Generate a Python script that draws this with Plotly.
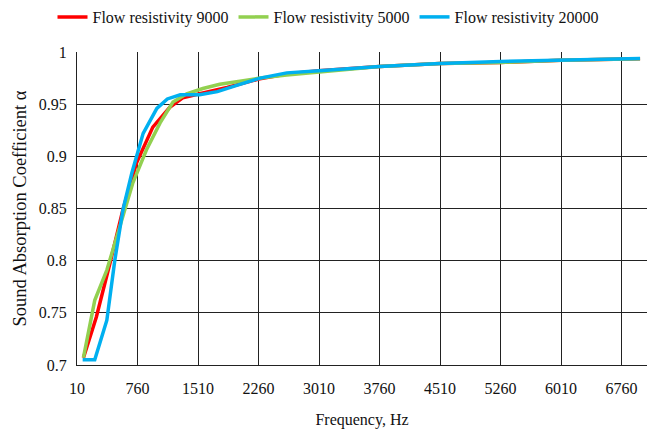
import plotly.graph_objects as go

# Flow resistivity 9000 (red)
freq_9000 = [90, 250, 420, 580, 750, 950, 1160, 1320, 1530, 1870, 2260, 2610, 3010, 3760, 4510, 5260, 6010, 6760, 6990]
alpha_9000 = [0.707, 0.746, 0.798, 0.849, 0.894, 0.928, 0.947, 0.956, 0.960, 0.966, 0.974, 0.979, 0.982, 0.986, 0.989, 0.990, 0.992, 0.993, 0.9935]

# Flow resistivity 5000 (green)
freq_5000 = [90, 230, 380, 540, 700, 870, 1040, 1200, 1370, 1570, 1780, 2030, 2280, 2610, 3010, 3760, 4510, 5260, 6010, 6760, 6990]
alpha_5000 = [0.707, 0.762, 0.791, 0.832, 0.874, 0.906, 0.932, 0.952, 0.960, 0.965, 0.969, 0.972, 0.975, 0.978, 0.981, 0.986, 0.989, 0.990, 0.992, 0.993, 0.9935]

# Flow resistivity 20000 (blue)
freq_20000 = [80, 230, 380, 480, 580, 690, 830, 1000, 1130, 1290, 1530, 1750, 1990, 2280, 2610, 2900, 3010, 3760, 4510, 5260, 6010, 6760, 6990]
alpha_20000 = [0.705, 0.705, 0.743, 0.801, 0.849, 0.884, 0.922, 0.946, 0.955, 0.959, 0.959, 0.962, 0.968, 0.975, 0.980, 0.982, 0.982, 0.986, 0.989, 0.991, 0.9925, 0.9935, 0.9937]

x_ticks = [10, 760, 1510, 2260, 3010, 3760, 4510, 5260, 6010, 6760]
y_ticks = [0.7, 0.75, 0.8, 0.85, 0.9, 0.95, 1.0]
y_labels = ["0.7", "0.75", "0.8", "0.85", "0.9", "0.95", "1"]

font_family = "Liberation Serif"

fig = go.Figure()
fig.add_trace(go.Scatter(x=freq_9000, y=alpha_9000, mode="lines", name="Flow resistivity 9000",
                         line=dict(color="#ff0000", width=3.5)))
fig.add_trace(go.Scatter(x=freq_5000, y=alpha_5000, mode="lines", name="Flow resistivity 5000",
                         line=dict(color="#92d050", width=3.5)))
fig.add_trace(go.Scatter(x=freq_20000, y=alpha_20000, mode="lines", name="Flow resistivity 20000",
                         line=dict(color="#00b0f0", width=3.5)))

fig.update_layout(
    width=657, height=436,
    margin=dict(l=77, r=10, t=52, b=71),
    paper_bgcolor="white", plot_bgcolor="white",
    font=dict(family=font_family, size=16, color="#111111"),
    legend=dict(orientation="h", x=0.5, xanchor="center", xref="container",
                y=1, yanchor="top", yref="container",
                font=dict(family=font_family, size=16), itemwidth=30, tracegroupgap=0),
    xaxis=dict(range=[10, 7076], tickvals=x_ticks, ticktext=[str(v) for v in x_ticks],
               tickfont=dict(family=font_family, size=16),
               showgrid=True, gridcolor="#222222", gridwidth=1,
               showline=True, linecolor="#222222", linewidth=1,
               zeroline=False, ticks="", ticklabelstandoff=9,
               title=dict(text="Frequency, Hz", standoff=17, font=dict(family=font_family, size=16))),
    yaxis=dict(range=[0.7, 1.0], tickvals=y_ticks, ticktext=y_labels,
               tickfont=dict(family=font_family, size=16),
               showgrid=True, gridcolor="#222222", gridwidth=1,
               showline=True, linecolor="#222222", linewidth=1,
               zeroline=False, ticks="", ticklabelstandoff=6,
               title=dict(text="Sound Absorption Coefficient α", standoff=7, font=dict(family=font_family, size=18.5))),
)

fig.write_html("out.html")
